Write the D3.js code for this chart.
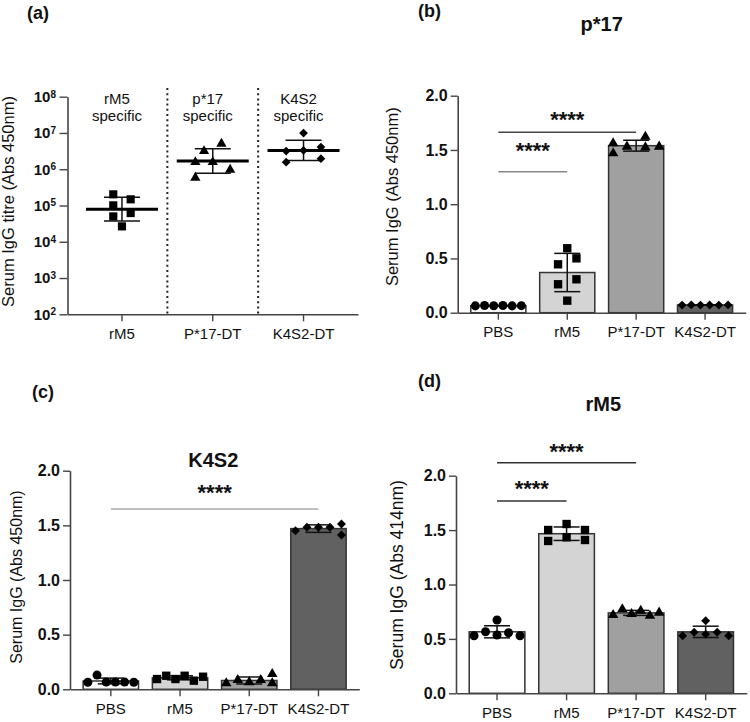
<!DOCTYPE html>
<html><head><meta charset="utf-8">
<script src="https://cdn.jsdelivr.net/npm/d3@7"></script>
<style>
body{margin:0;background:#fff}
svg{display:block}
text{font-family:"Liberation Sans",Arial,Helvetica,sans-serif}
</style>
</head><body>
<svg id="chart" width="750" height="722"></svg>
<script>
// ---------------- DATA ----------------
// Panel (a): serum IgG titres (log scale)
const titreGroups = ["rM5", "P*17-DT", "K4S2-DT"];
const titreHeaders = [["rM5", "specific"], ["p*17", "specific"], ["K4S2", "specific"]];
const titreRM5  = [2.03e5, 1.48e5, 1.01e5, 6.2e4, 5.0e4, 2.66e4];
const titreP17  = [5.07e6, 3.17e6, 1.57e6, 1.57e6, 9.7e5, 5.85e5];
const titreK4S2 = [9.9e6, 3.17e6, 3.3e6, 4.08e6, 1.57e6, 1.95e6];
const titreSlots = [[-1, 1, -1, 1, -1, 0], [1, -1, -2, 0, 2, -2], [0, -2, 0, 2, -2, 2]];
const titreTicks = [1e2, 1e3, 1e4, 1e5, 1e6, 1e7, 1e8];

// Bar panels
const barGroups = ["PBS", "rM5", "P*17-DT", "K4S2-DT"];
const linTicks = [0, 0.5, 1.0, 1.5, 2.0];

// (b) p*17 ELISA (Abs 450nm)
const p17PBS  = [0.063, 0.066, 0.064, 0.066, 0.063, 0.065];
const p17RM5  = [0.594, 0.501, 0.446, 0.308, 0.262, 0.111];
const p17P17  = [1.561, 1.469, 1.530, 1.622, 1.524, 1.530];
const p17K4S2 = [0.070, 0.072, 0.070, 0.071, 0.070, 0.072];
const p17Slots = [[-2.5, -1.5, -0.5, 0.5, 1.5, 2.5], [0, 1, -1, 1, -1, 0], [-2.5, -2.5, -1, 1, 1, 2.5], [-2.5, -1.5, -0.5, 0.5, 1.5, 2.5]];
const p17Sig = [["PBS", "P*17-DT", 1.662, 1.822], ["PBS", "rM5", 1.30, 1.53]];

// (c) K4S2 ELISA (Abs 450nm)
const k4PBS  = [0.064, 0.130, 0.066, 0.066, 0.066, 0.064];
const k4RM5  = [0.094, 0.124, 0.094, 0.124, 0.079, 0.115];
const k4P17  = [0.055, 0.085, 0.064, 0.085, 0.140, 0.055];
const k4K4S2 = [1.451, 1.482, 1.482, 1.482, 1.512, 1.412];
const k4Slots = [[-2.5, -1.5, -0.5, 0.5, 1.5, 2.5], [-2.5, -1.5, -0.5, 0.5, 1.5, 2.5], [-2.5, -1.25, 0, 1.25, 2.5, 2.5], [-2.5, -1.25, 0, 1.25, 2.5, 2.5]];
const k4Sig = [["PBS", "K4S2-DT", 1.65, 1.84]];

// (d) rM5 ELISA (Abs 414nm)
const m5PBS  = [0.529, 0.566, 0.674, 0.536, 0.557, 0.529];
const m5RM5  = [1.501, 1.556, 1.501, 1.400, 1.434, 1.409];
const m5P17  = [0.720, 0.772, 0.729, 0.759, 0.713, 0.741];
const m5K4S2 = [0.529, 0.561, 0.667, 0.542, 0.561, 0.529];
const m5Slots = [[-2.5, -1.25, 0, 0, 1.25, 2.5], [-2, 0, 2, -2, 0, 2], [-2.5, -1.5, -0.5, 0.5, 1.5, 2.5], [-2.5, -1.25, 0, 0, 1.25, 2.5]];
const m5Sig = [["PBS", "P*17-DT", 2.12, 2.26], ["PBS", "rM5", 1.767, 1.915]];

// ---------------- STYLE ----------------
const FONT = '"Liberation Sans",Arial,Helvetica,sans-serif';
const barFills = ["#ffffff", "#d4d4d4", "#a0a0a0", "#616161"];
const barShapes = ["circle", "square", "triangle", "diamond"];
const titreShapes = ["square", "triangle", "diamond"];
const axisColor = "#444";

const svg = d3.select("#chart");

function symbolPath(shape, scale) {
  const k = scale || 1;
  if (shape === "circle") return d3.symbol(d3.symbolCircle, 64 * k)();
  if (shape === "square") return d3.symbol(d3.symbolSquare, 70 * k)();
  if (shape === "triangle") return d3.symbol(d3.symbolTriangle, 48 * k)();
  return d3.symbol(d3.symbolSquare, 40 * k)();
}
function drawMarker(g, shape, x, y, scale) {
  g.append("path")
    .attr("d", symbolPath(shape, scale))
    .attr("transform", `translate(${x},${y})` + (shape === "diamond" ? " rotate(45)" : ""))
    .attr("fill", "#000");
}

function styleAxis(ax, size, weight) {
  ax.attr("font-size", null).attr("font-family", null);
  ax.select(".domain").attr("stroke", axisColor).attr("stroke-width", 1.6);
  ax.selectAll(".tick line").attr("stroke", axisColor).attr("stroke-width", 1.4);
  ax.selectAll(".tick text").attr("fill", "#111").style("font-size", size + "px")
    .style("font-weight", weight).style("font-family", FONT);
}

function yTitle(x, y, text, size) {
  svg.append("text").attr("transform", `translate(${x},${y}) rotate(-90)`)
    .attr("text-anchor", "middle").style("font-size", size + "px").attr("fill", "#111").text(text);
}
function panelLetter(x, y, t) {
  svg.append("text").attr("x", x).attr("y", y).style("font-size", "18px")
    .style("font-weight", "bold").attr("fill", "#111").text(t);
}
function chartTitle(x, y, t) {
  svg.append("text").attr("x", x).attr("y", y).attr("text-anchor", "middle")
    .style("font-size", "20px").style("font-weight", "bold").attr("fill", "#111").text(t);
}

// ---------------- PANEL (a) ----------------
(function () {
  const x = d3.scaleBand().domain(titreGroups).range([67.5, 358]).paddingOuter(0.1).paddingInner(0);
  const y = d3.scaleLog().domain([1e2, 1e8]).range([314.3, 96.7]);
  const slot = d3.scaleLinear().domain([0, 1]).range([0, 8.7]);
  const series = [titreRM5, titreP17, titreK4S2];
  const g = svg.append("g");

  const ya = g.append("g").attr("transform", `translate(67.5,0)`)
    .call(d3.axisLeft(y).tickValues(titreTicks).tickSize(8).tickPadding(3.5).tickSizeOuter(0));
  styleAxis(ya, 15, "bold");
  ya.selectAll(".tick text").each(function (d) {
    const t = d3.select(this);
    t.text("");
    t.append("tspan").text("10");
    t.append("tspan").attr("dy", "-0.45em").style("font-size", "10px").text(Math.round(Math.log10(d)));
  });
  const xa = g.append("g").attr("transform", `translate(0,314.3)`)
    .call(d3.axisBottom(x).tickSize(7).tickPadding(7).tickSizeOuter(0));
  styleAxis(xa, 15, "normal");

  // dotted separators
  for (let i = 1; i < titreGroups.length; i++) {
    const xs = (x(titreGroups[i - 1]) + x.bandwidth() + x(titreGroups[i])) / 2;
    g.append("line").attr("x1", xs).attr("x2", xs).attr("y1", 88).attr("y2", 314)
      .attr("stroke", "#222").attr("stroke-width", 2).attr("stroke-dasharray", "2,3.2");
  }

  series.forEach((vals, i) => {
    const cx = x(titreGroups[i]) + x.bandwidth() / 2;
    const logs = vals.map(v => Math.log10(v));
    const m = d3.mean(logs), sd = d3.deviation(logs);
    // header
    titreHeaders[i].forEach((line, j) => {
      g.append("text").attr("x", cx - 5).attr("y", 104 + j * 17).attr("text-anchor", "middle")
        .style("font-size", "15px").attr("fill", "#111").text(line);
    });
    // error bar
    const yHi = y(Math.pow(10, m + sd)), yLo = y(Math.pow(10, m - sd));
    g.append("line").attr("x1", cx).attr("x2", cx).attr("y1", yHi).attr("y2", yLo).attr("stroke", "#111").attr("stroke-width", 1.5);
    [yHi, yLo].forEach(yy => g.append("line").attr("x1", cx - 18).attr("x2", cx + 18).attr("y1", yy).attr("y2", yy)
      .attr("stroke", "#111").attr("stroke-width", 1.5));
    // points
    vals.forEach((v, k) => drawMarker(g, titreShapes[i], cx + slot(titreSlots[i][k]), y(v), 0.95));
    // mean line
    g.append("line").attr("x1", cx - 36).attr("x2", cx + 36).attr("y1", y(Math.pow(10, m))).attr("y2", y(Math.pow(10, m)))
      .attr("stroke", "#000").attr("stroke-width", 3);
  });
  yTitle(14, 201.5, "Serum IgG titre (Abs 450nm)", 16.5);
  panelLetter(27, 19, "(a)");
})();

// ---------------- BAR PANELS ----------------
function barPanel(cfg) {
  const x = d3.scaleBand().domain(barGroups).range(cfg.xr).paddingInner(0.2).paddingOuter(0.19);
  const y = d3.scaleLinear().domain([0, 2]).range(cfg.yr);
  const slot = d3.scaleLinear().domain([0, 1]).range([0, 9.2]);
  const g = svg.append("g");
  const ya = g.append("g").attr("transform", `translate(${cfg.xr[0]},0)`)
    .call(d3.axisLeft(y).tickValues(linTicks).tickFormat(d3.format(".1f")).tickSize(7).tickPadding(3).tickSizeOuter(0));
  styleAxis(ya, 16, "bold");

  cfg.series.forEach((vals, i) => {
    const x0 = x(barGroups[i]), cx = x0 + x.bandwidth() / 2;
    const m = d3.mean(vals), sd = d3.deviation(vals);
    g.append("rect").attr("x", x0).attr("width", x.bandwidth()).attr("y", y(m)).attr("height", y(0) - y(m))
      .attr("fill", barFills[i]).attr("stroke", "#333").attr("stroke-width", 1.5);
    const yHi = y(m + sd), yLo = y(m - sd);
    g.append("line").attr("x1", cx).attr("x2", cx).attr("y1", yHi).attr("y2", yLo).attr("stroke", "#111").attr("stroke-width", 1.5);
    [yHi, yLo].forEach(yy => g.append("line").attr("x1", cx - 13).attr("x2", cx + 13).attr("y1", yy).attr("y2", yy)
      .attr("stroke", "#111").attr("stroke-width", 1.5));
    vals.forEach((v, k) => drawMarker(g, barShapes[i], cx + slot(cfg.slots[i][k]), y(v), 1));
  });

  const xa = g.append("g").attr("transform", `translate(0,${cfg.yr[0]})`)
    .call(d3.axisBottom(x).tickSize(7).tickPadding(7).tickSizeOuter(0));
  styleAxis(xa, 15, "normal");

  cfg.sig.forEach((s, i) => {
    const x1 = x(s[0]) + x.bandwidth() / 2, x2 = x(s[1]) + x.bandwidth() / 2;
    g.append("line").attr("x1", x1).attr("x2", x2).attr("y1", y(s[2])).attr("y2", y(s[2]))
      .attr("stroke", cfg.sigColors[i]).attr("stroke-width", 1.5);
    g.append("text").attr("x", (x1 + x2) / 2).attr("y", y(s[3]) + 11.5).attr("text-anchor", "middle")
      .style("font-size", "22px").style("font-weight", "bold").attr("fill", "#111").text("****");
  });

  yTitle(cfg.ytitle[0], (cfg.yr[0] + cfg.yr[1]) / 2 + cfg.ytitle[3], cfg.ytitle[1], cfg.ytitle[2]);
  chartTitle(cfg.title[0], cfg.title[1], cfg.title[2]);
  panelLetter(cfg.letter[0], cfg.letter[1], cfg.letter[2]);
}

barPanel({
  xr: [457.7, 745.7], yr: [312.7, 95.7],
  series: [p17PBS, p17RM5, p17P17, p17K4S2], slots: p17Slots,
  sig: p17Sig, sigColors: ["#444", "#888"],
  ytitle: [398, "Serum IgG (Abs 450nm)", 16.5, -7.5],
  title: [601.7, 31, "p*17"], letter: [418, 17, "(b)"]
});
barPanel({
  xr: [70, 359.3], yr: [689.3, 470.7],
  series: [k4PBS, k4RM5, k4P17, k4K4S2], slots: k4Slots,
  sig: k4Sig, sigColors: ["#aaa"],
  ytitle: [21.5, "Serum IgG (Abs 450nm)", 16, -3],
  title: [213.3, 466.5, "K4S2"], letter: [32, 398, "(c)"]
});
barPanel({
  xr: [456, 746.7], yr: [693.3, 475.7],
  series: [m5PBS, m5RM5, m5P17, m5K4S2], slots: m5Slots,
  sig: m5Sig, sigColors: ["#333", "#333"],
  ytitle: [403, "Serum IgG (Abs 414nm)", 17.5, -9.5],
  title: [603.3, 411, "rM5"], letter: [418, 387, "(d)"]
});
</script>
</body></html>
